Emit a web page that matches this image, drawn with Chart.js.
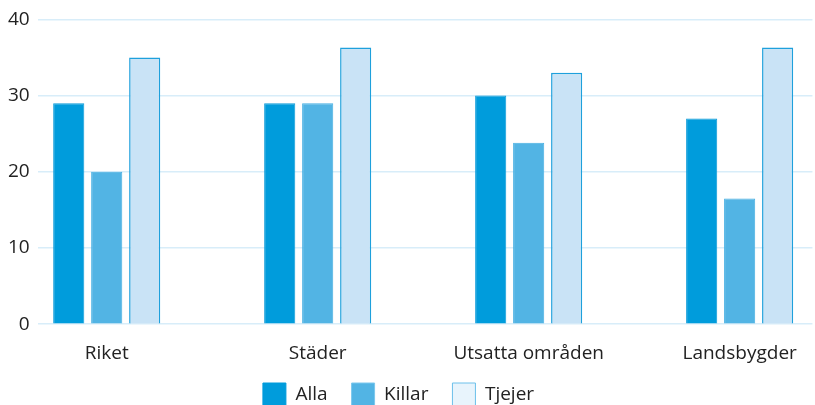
<!DOCTYPE html>
<html>
<head>
<meta charset="utf-8">
<script src="https://cdn.jsdelivr.net/npm/chart.js@4"></script>
<style>
  html, body { margin: 0; padding: 0; background: #fff; overflow: hidden; }
  #wrap { width: 815px; height: 405px; overflow: hidden; }
  #box { width: 815px; height: 440px; position: relative; }
</style>
</head>
<body>
<div id="wrap"><div id="box"><canvas id="chart"></canvas></div></div>
<script>
// data
const categories = ['Riket', 'Städer', 'Utsatta områden', 'Landsbygder'];
const alla = [29, 29, 30, 27];
const killar = [20, 29, 23.8, 16.5];
const tjejer = [35, 36.3, 33, 36.3];
const yTicks = [0, 10, 20, 30, 40];

const font = "'Open Sans', 'Noto Sans', sans-serif";
const toPoints = arr => arr.map((v, i) => ({ x: i, y: v }));

const legendFill = ['#009cdc', '#52b4e4', '#e8f4fc'];
const legendStroke = ['#009cdc', '#7cc8ee', '#6cc0ea'];

// legend sits a bit left of centre and tight under the labels in the original
const legendShift = {
    id: 'legendShift',
    afterLayout(chart) {
        const lg = chart.legend;
        lg.left -= 8;
        lg.right -= 8;
        lg.top -= 24;
        lg.bottom -= 24;
    }
};

new Chart(document.getElementById('chart'), {
    type: 'bar',
    data: {
        datasets: [
            { label: 'Alla', data: toPoints(alla), backgroundColor: '#009cdc', borderColor: '#0a9ad8', borderWidth: 1 },
            { label: 'Killar', data: toPoints(killar), backgroundColor: '#52b4e4', borderColor: '#44aee2', borderWidth: 1 },
            { label: 'Tjejer', data: toPoints(tjejer), backgroundColor: '#c9e3f6', borderColor: '#1ea0dc', borderWidth: 1.5 }
        ]
    },
    plugins: [legendShift],
    options: {
        responsive: true,
        maintainAspectRatio: false,
        animation: false,
        categoryPercentage: 0.54,
        barPercentage: 0.82,
        layout: { padding: { left: 0, right: 2, top: 13, bottom: 0 } },
        plugins: {
            tooltip: { enabled: false },
            legend: {
                position: 'bottom',
                labels: {
                    color: '#222',
                    font: { family: font, size: 19 },
                    boxWidth: 23,
                    boxHeight: 23,
                    padding: 24,
                    generateLabels: chart => chart.data.datasets.map((ds, i) => ({
                        text: ds.label,
                        fillStyle: legendFill[i],
                        strokeStyle: legendStroke[i],
                        lineWidth: 1,
                        fontColor: '#222',
                        datasetIndex: i,
                        hidden: false
                    }))
                }
            }
        },
        scales: {
            x: {
                type: 'linear',
                offset: false,
                min: -0.327,
                max: 3.345,
                afterBuildTicks: s => { s.ticks = categories.map((_, i) => ({ value: i })); },
                ticks: {
                    color: '#222',
                    font: { family: font, size: 19 },
                    padding: 18,
                    autoSkip: false,
                    maxRotation: 0,
                    callback: v => categories[v]
                },
                grid: { display: false, drawTicks: false },
                border: { display: false }
            },
            y: {
                min: 0,
                max: 40,
                afterBuildTicks: s => { s.ticks = yTicks.map(v => ({ value: v })); },
                ticks: { color: '#222', font: { family: font, size: 19 }, padding: 8 },
                grid: { color: '#d8edf9', lineWidth: 1.5, drawTicks: false },
                border: { display: false }
            }
        }
    }
});
</script>
</body>
</html>
